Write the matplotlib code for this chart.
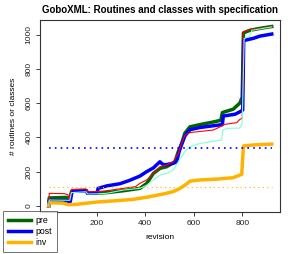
import numpy as np
import matplotlib
matplotlib.use("Agg")
import matplotlib.pyplot as plt

plt.rcParams['font.family'] = ['Liberation Sans', 'DejaVu Sans']

# ============================================================
# Dados (revisao, numero de rotinas/classes)
# ============================================================

rev_pre = [1, 3, 75, 85, 95, 155, 162, 200, 240, 309, 378, 406, 433, 461, 488,
           522, 536, 550, 563, 584, 626, 680, 712, 718, 763, 790, 800, 805,
           832, 873, 922]
pre = [0, 47, 50, 23, 85, 89, 74, 75, 78, 89, 103, 132, 190, 220, 229,
       258, 317, 365, 424, 462, 475, 490, 500, 545, 565, 600, 635, 1010,
       1025, 1036, 1047]

rev_post = [1, 3, 75, 90, 97, 157, 162, 200, 205, 240, 295, 336, 378, 405,
            433, 460, 470, 481, 515, 529, 540, 550, 564, 584, 626, 680, 718,
            722, 770, 791, 802, 806, 846, 873, 922]
post = [0, 32, 30, 25, 85, 89, 74, 76, 103, 117, 130, 150, 175, 200,
        222, 258, 245, 240, 249, 258, 320, 360, 410, 445, 458, 468, 475,
        525, 535, 550, 560, 965, 978, 991, 1003]

rev_inv = [1, 3, 60, 80, 110, 199, 281, 350, 405, 474, 515, 543, 564, 584,
           626, 695, 763, 798, 805, 845, 922]
inv = [0, 19, 17, 8, 9, 23, 31, 39, 51, 70, 84, 103, 122, 145,
       152, 157, 165, 185, 350, 356, 361]

rev_red = [1, 3, 65, 80, 85, 95, 155, 162, 200, 240, 309, 360, 375, 406, 433,
           461, 488, 515, 536, 550, 563, 584, 626, 680, 715, 722, 777, 790,
           800, 805, 833, 870, 922]
red = [0, 74, 72, 66, 40, 97, 100, 83, 84, 89, 103, 113, 130, 152, 190,
       229, 239, 258, 307, 365, 414, 428, 435, 443, 466, 475, 486, 505,
       511, 1016, 1030, 1035, 1045]

rev_aqua = [1, 3, 88, 95, 155, 162, 200, 240, 309, 378, 406, 433, 461, 488,
            515, 536, 550, 563, 584, 626, 715, 720, 736, 790, 800, 808, 830,
            840, 922]
aqua = [0, 35, 33, 78, 83, 70, 71, 74, 93, 103, 122, 152, 181, 190,
        210, 258, 288, 317, 346, 365, 385, 443, 453, 455, 482, 978, 990,
        1025, 1045]

# medias (linhas pontilhadas)
media_post = 336
media_inv = 109
rev_fim = 922

# o tick 0 do eixo x fica escondido pela legenda no original
xticks = [200, 400, 600, 800]
yticks = [0, 200, 400, 600, 800, 1000]

# ============================================================
# Figura
# ============================================================

fig = plt.figure(figsize=(2.94, 2.54), dpi=100)
ax = fig.add_axes([40 / 294, 1 - 212 / 254, 240 / 294, 192 / 254])

ax.plot(rev_pre, pre, color="#006400", lw=2.5)
ax.plot(rev_post, post, color="#0000FF", lw=2.5)
ax.plot(rev_inv, inv, color="#FFB300", lw=2.5)
ax.plot(rev_red, red, color="#FF0000", lw=0.8)
ax.plot(rev_aqua, aqua, color="#7FFFD4", lw=0.8)

ax.plot([1, rev_fim], [media_post, media_post], color="#0000FF", lw=1.2,
        linestyle=(0, (1, 2.5)))
ax.plot([1, rev_fim], [media_inv, media_inv], color="#FFB300", lw=0.8,
        linestyle=(0, (1, 3)))

ax.set_xlim(-35, 956)
ax.set_ylim(-35, 1085)
ax.set_xticks(xticks)
ax.set_yticks(yticks)
ax.tick_params(labelsize=6, length=3, width=0.6, pad=2.5, colors="#222222")
for lab in ax.get_yticklabels():
    lab.set_rotation(90)
    lab.set_va("center")
for s in ax.spines.values():
    s.set_linewidth(0.8)
    s.set_color("#333333")

ax.set_title("GoboXML: Routines and classes with specification",
             fontsize=7.0, fontweight="bold", pad=5)
ax.set_xlabel("revision", fontsize=6, labelpad=5)
ax.set_ylabel("# routines or classes", fontsize=6, labelpad=6)

h1, = ax.plot([], [], color="#006400", lw=2.5, label="pre")
h2, = ax.plot([], [], color="#0000FF", lw=2.5, label="post")
h3, = ax.plot([], [], color="#FFB300", lw=2.5, label="inv")
leg = fig.legend(handles=[h1, h2, h3], loc="upper left",
                 bbox_to_anchor=(3 / 294, 1 - 211 / 254), fontsize=6.3,
                 frameon=True, fancybox=False, edgecolor="#333333",
                 handlelength=2.6, handletextpad=0.6, borderpad=0.55,
                 labelspacing=0.25, borderaxespad=0)
leg.get_frame().set_linewidth(0.6)

fig.savefig("out.png", dpi=100)
